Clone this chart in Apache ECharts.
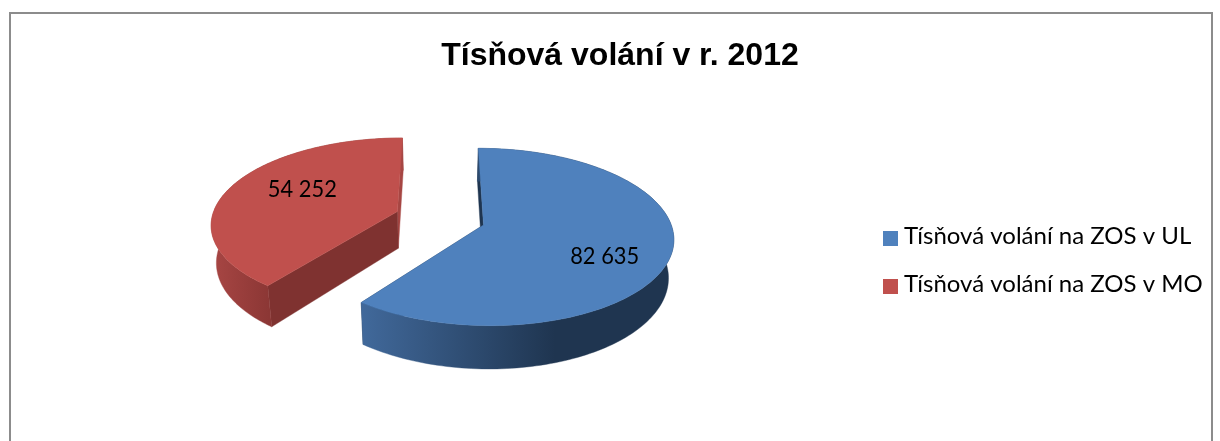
<!DOCTYPE html>
<html>
<head>
<meta charset="utf-8">
<style>html,body{margin:0;padding:0;background:#fff}#c{width:1220px;height:441px}</style>
<script src="https://cdn.jsdelivr.net/npm/echarts@6/dist/echarts.min.js"></script>
</head>
<body>
<div id="c"></div>
<script>
const titleText = 'Tísňová volání v r. 2012';
const categories = ['Tísňová volání na ZOS v UL', 'Tísňová volání na ZOS v MO'];
const values = [82635, 54252];
const topColors = ['#4F81BD', '#C0504D'];
const cutColors = ['#1F3550', '#7F3230'];
const farCutColors = ['#1F3550', '#A64643'];
const wallStops = [
  [[0, '#41699B'], [0.62, '#1F3550'], [1, '#1F3550']],
  [[0, '#A84644'], [0.3, '#8C3735'], [0.85, '#8C3735'], [0.95, '#A64643'], [1, '#A64643']]
];
// layout of the tilted view
const view = { vx: 440, hy: -416, h: 642, depth: 37.5, R: 188, persp: 0.136, ox: 0, oz: -17, explode: 46, shrink: 0.977 };
const labelR = [0.655, 0.565];
const labelDy = [13, -7];

const total = values.reduce((a, b) => a + b, 0);
const spans = [];
let acc = 0;
values.forEach(v => { const a = v / total * 360; spans.push([acc, acc + a]); acc += a; });

function project(X, Z, bottom) {
  const s = 1 / (1 - view.persp * Z / view.R);
  return [
    view.vx + X * s * (bottom ? view.shrink : 1),
    view.hy + (view.h + (bottom ? view.depth : 0)) * s
  ];
}
const rad = d => d * Math.PI / 180;
function apexOf(i) {
  const mid = rad((spans[i][0] + spans[i][1]) / 2);
  return [view.ox + view.explode * Math.sin(mid), view.oz - view.explode * Math.cos(mid)];
}
function rimPoint(i, deg, r, bottom) {
  const a = apexOf(i), t = rad(deg);
  return project(a[0] + r * view.R * Math.sin(t), a[1] - r * view.R * Math.cos(t), bottom);
}
function rimPath(i, bottom) {
  const pts = [], [a, b] = spans[i];
  for (let k = 0; k <= 160; k++) pts.push(rimPoint(i, a + (b - a) * k / 160, 1, bottom));
  return pts;
}
function fmt(v) { return String(v).replace(/\B(?=(\d{3})+$)/g, ' '); }

function renderSlice(i) {
  return function () {
    const top = rimPath(i, false), low = rimPath(i, true);
    const apexTop = rimPoint(i, 0, 0, false), apexLow = rimPoint(i, 0, 0, true);
    const wall = top.concat(low.slice().reverse());
    const poly = (points, fill) => ({ type: 'polygon', shape: { points }, style: { fill, stroke: fill, lineWidth: 0.4 } });
    const mid = (spans[i][0] + spans[i][1]) / 2;
    const lp = rimPoint(i, mid, labelR[i], false);
    return {
      type: 'group',
      children: [
        poly([top[top.length - 1], apexTop, apexLow, low[low.length - 1]], farCutColors[i]),
        poly([top[0], apexTop, apexLow, low[0]], cutColors[i]),
        poly(wall, new echarts.graphic.LinearGradient(0, 0, 1, 0, wallStops[i].map(s => ({ offset: s[0], color: s[1] })))),
        poly([apexTop].concat(top), topColors[i]),
        { type: 'text', x: lp[0], y: lp[1] + labelDy[i], scaleX: 0.93,
          style: { text: fmt(values[i]), fill: '#000', font: '23.5px Lato', align: 'center', verticalAlign: 'middle' } }
      ]
    };
  };
}

const chart = echarts.init(document.getElementById('c'), null, { renderer: 'canvas' });
chart.setOption({
  animation: false,
  backgroundColor: '#fff',
  title: {
    text: titleText, left: 615, top: 35, textAlign: 'center',
    textStyle: { fontFamily: 'Liberation Sans', fontWeight: 'bold', fontSize: 32, color: '#000' }
  },
  legend: {
    orient: 'vertical', left: 878, top: 219, icon: 'rect', itemWidth: 15, itemHeight: 15, itemGap: 24,
    itemStyle: { borderWidth: 0 },
    formatter: n => '{t|' + n + '}',
    textStyle: {
      rich: { t: { fontFamily: 'Lato', fontSize: 24, color: '#000', padding: [0, 0, 5, 1] } }
    },
    data: categories
  },
  graphic: [{
    type: 'polyline', silent: true,
    shape: { points: [[10, 441], [10, 13], [1212, 13], [1212, 441]] },
    style: { fill: 'none', stroke: '#8C8C8C', lineWidth: 2 }
  }],
  series: [1, 0].map(i => ({
    type: 'custom', name: categories[i], coordinateSystem: 'none',
    itemStyle: { color: topColors[i] },
    data: [values[i]],
    renderItem: renderSlice(i)
  }))
});
</script>
</body>
</html>
